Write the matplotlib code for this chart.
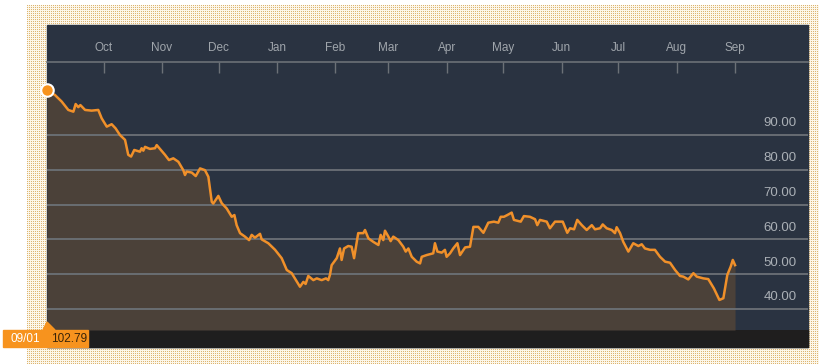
import numpy as np
import pandas as pd
import matplotlib
matplotlib.use("Agg")
import matplotlib.pyplot as plt
import matplotlib.dates as mdates
from matplotlib.patches import Rectangle, Polygon

# price series, days counted from 2014-09-01
start = pd.Timestamp("2014-09-01")
days = [0, 4.2, 7.8, 11.3, 14, 15.2, 16.6, 17.7, 20.2, 23.7, 27.2, 29, 31.7, 34.3, 36.4,
        38.7, 41.4, 43.1, 44.6, 46.3, 49.3, 50.2, 51.1, 52, 54.6, 57.3, 58.2, 62.6, 64.7,
        67, 69.7, 72.3, 73.2, 74.1, 76.8, 78.9, 81.2, 83.8, 85.6, 87.4, 88.2, 90.9, 92.7,
        95.3, 98, 99.4, 100.6, 102.4, 105, 107.2, 108.6, 110.3, 113, 113.9, 117.4, 121,
        124.5, 127.2, 129.8, 134.2, 136, 137.2, 138.6, 141.3, 143.1, 145.7, 148, 149.2,
        150.1, 151, 153.7, 155.4, 156.3, 157.6, 159.8, 161.6, 162.9, 165.1, 167.8, 168.7,
        170.5, 173.1, 175.8, 177, 178.4, 179.3, 181.1, 182.3, 183.7, 186.4, 189, 190.3,
        191.7, 193.5, 196.1, 197.9, 198.8, 201.4, 204.9, 205.8, 207.1, 209.4, 211.1, 212,
        213.8, 215.5, 217.7, 219.1, 221.8, 224.4, 226.2, 228.8, 231.5, 234.1, 237.1, 239.4,
        240.7, 242.4, 244.2, 246.5, 247.7, 251.3, 253, 256.2, 258.9, 260.1, 261.5, 265.1,
        266.8, 269.5, 273.6, 276, 277.5, 279.6, 281.3, 283.7, 286.3, 289, 290.7, 293.4,
        294.8, 296.9, 299.6, 301.3, 302.2, 304, 305.7, 308.4, 311, 313.7, 315.5, 317.2,
        319.9, 322.5, 325.2, 327.9, 330.5, 333.2, 335.8, 337.6, 340.2, 342.9, 344.7, 348.2,
        350.8, 353.8, 356.7, 358.8, 360.9, 362.7, 363.8, 365]
prices = [102.79, 101.5, 99.6, 97.2, 96.7, 98.9, 98.0, 98.6, 97.2, 97.0, 97.2, 94.8, 92.4,
          93.1, 91.9, 90.0, 88.6, 84.3, 83.8, 85.7, 85.2, 86.2, 85.5, 86.6, 86.0, 86.2, 87.1,
          84.3, 82.8, 83.3, 82.3, 79.9, 78.5, 79.5, 79.2, 78.2, 80.4, 79.9, 78.0, 70.8, 70.3,
          72.5, 70.4, 68.9, 66.5, 67.0, 64.1, 61.8, 60.8, 59.8, 61.3, 60.5, 61.6, 60.0, 58.9,
          57.0, 54.6, 51.2, 50.3, 46.4, 47.8, 47.2, 49.5, 48.3, 48.8, 48.3, 48.8, 48.3, 49.8,
          52.6, 54.6, 57.4, 54.1, 57.4, 58.1, 57.9, 54.6, 61.8, 61.8, 62.7, 60.3, 59.3, 58.4,
          61.3, 59.8, 62.5, 60.8, 59.5, 60.8, 59.8, 57.9, 56.5, 57.4, 55.0, 53.6, 53.1, 55.0,
          55.5, 56.0, 58.9, 56.5, 56.2, 57.0, 55.0, 56.0, 57.4, 58.9, 55.5, 57.7, 57.9, 63.6,
          63.6, 61.9, 64.8, 65.1, 64.8, 66.5, 66.5, 67.0, 67.7, 65.6, 65.1, 66.7, 66.5, 65.8,
          64.1, 65.6, 65.1, 63.2, 65.1, 65.1, 61.9, 63.2, 62.9, 65.6, 64.1, 62.7, 64.1, 62.9,
          63.2, 64.3, 63.2, 62.7, 61.8, 63.5, 61.8, 59.3, 56.5, 58.9, 58.1, 58.6, 57.4, 57.0,
          57.0, 55.0, 53.6, 53.3, 51.2, 49.5, 49.3, 48.5, 50.3, 49.3, 48.8, 48.6, 45.9, 42.6,
          43.1, 49.8, 52.2, 54.1, 52.6]
grid_values = [40, 50, 60, 70, 80, 90]
month_ticks = pd.date_range("2014-10-01", "2015-09-01", freq="MS")
first_label = "09/01"
first_value = "102.79"

dates = start + pd.to_timedelta(days, unit="D")

W, H = 820, 364
NAVY = "#2a3341"
BROWN = "#4b4139"
ORANGE = "#f7931e"
GRID = "#6c7177"


def fx(x):
    return x / W


def fy(y):
    return 1 - y / H


fig = plt.figure(figsize=(8.2, 3.64), dpi=100, facecolor="white")

# dotted backdrop
bg = np.ones((H - 5, W - 27, 3)) * np.array([0.99, 0.97, 0.92])
bg[::2, ::2] = np.array([0.87, 0.71, 0.45])
fig.figimage(bg, xo=27, yo=0, zorder=-3)

# dark panel + bottom strip
fig.add_artist(Rectangle((fx(47), fy(347)), fx(808) - fx(47), fy(25) - fy(347),
                         transform=fig.transFigure, color=NAVY, zorder=-2))
fig.add_artist(Rectangle((fx(47), fy(347)), fx(808) - fx(47), fy(330) - fy(347),
                         transform=fig.transFigure, color="#1f1e1e", zorder=-1))

ax = fig.add_axes([fx(47), fy(330), fx(808) - fx(47), fy(62) - fy(330)])
ax.set_facecolor(NAVY)
ybot = 90 - (330 - 135) / 3.48
ytop = 90 + (135 - 62) / 3.48
ax.set_ylim(ybot, ytop)
ax.set_xlim(start, start + pd.Timedelta(days=403.7))

ax.fill_between(dates, prices, ybot, color=BROWN, lw=0, zorder=1)
for v in grid_values:
    ax.axhline(v, color=GRID, lw=1.3, zorder=2)
    ax.annotate(f"{v:.2f}", (0.985, v), xycoords=("axes fraction", "data"),
                xytext=(0, 4), textcoords="offset points", ha="right", va="bottom",
                color="#aab0b6", fontsize=9.5, family="Liberation Sans")
ax.plot(dates, prices, color="#f0902a", lw=1.8, zorder=3)
ax.plot(dates[:1], prices[:1], "o", ms=9, mfc=ORANGE, mec="white", mew=1.5,
        clip_on=False, zorder=5)

ax.xaxis.tick_top()
ax.set_xticks(month_ticks)
ax.xaxis.set_major_formatter(mdates.DateFormatter("%b"))
ax.tick_params(axis="x", direction="in", length=8, width=1, color=GRID,
               pad=6, labelsize=8.5, labelcolor="#a0a6ac")
for lab in ax.get_xticklabels():
    lab.set_family("Liberation Sans")
ax.set_yticks([])
for side in ["left", "right", "bottom"]:
    ax.spines[side].set_visible(False)
ax.spines["top"].set_color(GRID)
ax.spines["top"].set_linewidth(1.2)

# date flag at bottom left
fig.add_artist(Rectangle((fx(3), fy(347)), fx(88) - fx(3), fy(330) - fy(347),
                         transform=fig.transFigure, color=ORANGE, zorder=4))
fig.add_artist(Polygon([(fx(43), fy(330)), (fx(47), fy(322)), (fx(55), fy(330))],
                       closed=True, transform=fig.transFigure, color=ORANGE, zorder=4))
fig.text(fx(25), fy(339), first_label, ha="center", va="center", color="white",
         fontsize=8.5, family="Liberation Sans", zorder=5)
fig.text(fx(69), fy(339), first_value, ha="center", va="center", color="#3a2408",
         fontsize=8.5, family="Liberation Sans", zorder=5)

fig.savefig("out.png", dpi=100, facecolor="white")
